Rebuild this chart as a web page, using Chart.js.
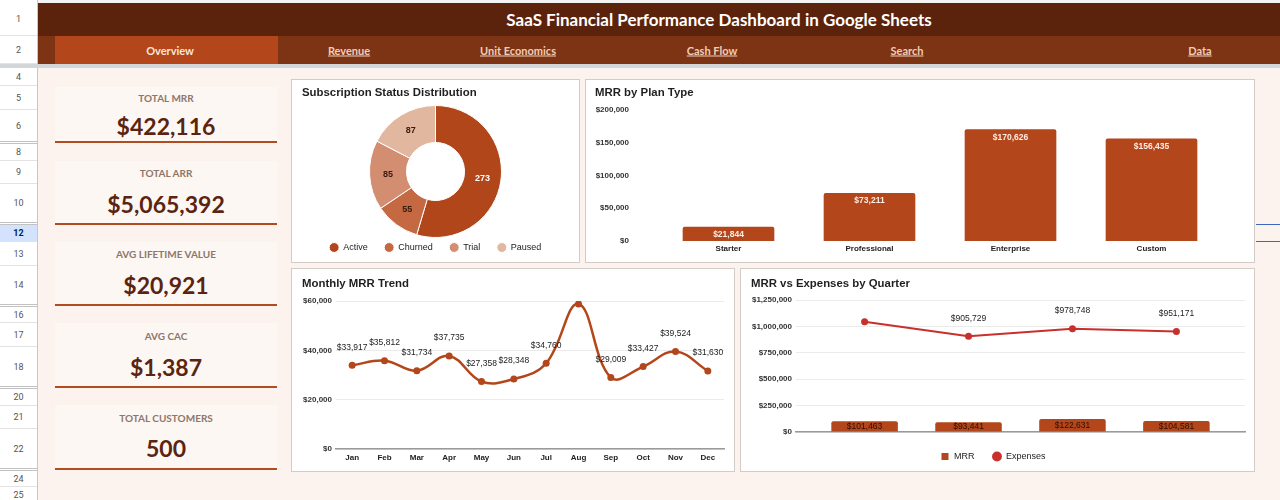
<!DOCTYPE html>
<html lang="en">
<head>
<meta charset="utf-8">
<title>SaaS Financial Performance Dashboard in Google Sheets</title>
<script src="https://cdn.jsdelivr.net/npm/chart.js@4.4.1/dist/chart.umd.min.js"></script>
<style>
  html, body { margin: 0; padding: 0; }
  body {
    position: relative; width: 1280px; height: 500px; overflow: hidden;
    background: #fcf3ee; font-family: Lato, "Liberation Sans", sans-serif;
  }
  #colHeader { position: absolute; left: 0; top: 0; width: 1280px; height: 3px; background: #f3f3f3; }
  #rowHeader { position: absolute; left: 0; top: 0; width: 37px; height: 500px; background: #fff; border-right: 1px solid #c7c7c7; }
  .row-num {
    position: absolute; left: 0; width: 37px; box-sizing: border-box; border-bottom: 1px solid #e3e3e3;
    font: 9px Roboto, sans-serif; color: #555; display: flex; align-items: center; justify-content: center;
  }
  .row-num.gap { border-bottom: 3px double #c2c2c2; }
  .row-num.selected { background: #d3e3fd; color: #041e49; font-weight: 700; }
  #titleBar { position: absolute; left: 38px; top: 3px; width: 1242px; height: 33px; background: #5b230b; }
  #title {
    position: absolute; left: 719px; top: 19px; transform: translate(-50%, -50%);
    color: #fff; font-size: 17px; font-weight: 700; white-space: nowrap;
  }
  #navBar { position: absolute; left: 38px; top: 36px; width: 1242px; height: 28px; background: #7c3415; }
  #navActive { position: absolute; left: 55px; top: 36px; width: 223px; height: 28px; background: #b4461b; }
  .nav-link {
    position: absolute; top: 50px; transform: translate(-50%, -50%); font-size: 11px; font-weight: 700;
    color: #f3cdb6; text-decoration: underline; white-space: nowrap;
  }
  .nav-link.active { color: #fbe6d9; text-decoration: none; }
  #frozen { position: absolute; left: 0; top: 64px; width: 1280px; height: 4px; background: #d3d6d9; }
  .kpi-card { position: absolute; left: 55px; width: 222px; background: #fdf7f3; border-bottom: 2px solid #b04c1f; box-sizing: border-box; }
  .kpi-label, .kpi-value { position: absolute; left: 166px; transform: translate(-50%, -50%); white-space: nowrap; }
  .kpi-label { font-size: 10px; font-weight: 700; color: #8e766a; }
  .kpi-value { font-size: 23px; font-weight: 700; color: #5b2410; }
  .chart-box { position: absolute; background: #fff; border: 1px solid #d2cbc6; box-sizing: border-box; }
  .chart-box canvas { position: absolute; left: 0; top: 0; }
  .chart-title {
    position: absolute; z-index: 2; font: bold 11.4px "Liberation Sans", Arial, sans-serif;
    color: #1f1f1f; white-space: nowrap;
  }
  .sel-line { position: absolute; left: 1256px; width: 24px; height: 1px; background: #3f67c0; }
</style>
</head>
<body>
<div id="colHeader"></div>
<div id="rowHeader"></div>
<div id="titleBar"></div>
<div id="navBar"></div>
<div id="navActive"></div>
<div id="title">SaaS Financial Performance Dashboard in Google Sheets</div>
<div id="frozen"></div>
<div class="sel-line" style="top:224px"></div>
<div class="sel-line" style="top:241px"></div>

<div class="chart-box" style="left:291px;top:79px;width:289px;height:184px">
  <div class="chart-title" style="left:10px;top:6px">Subscription Status Distribution</div>
  <canvas id="statusChart" width="287" height="182"></canvas>
</div>
<div class="chart-box" style="left:585px;top:79px;width:670px;height:184px">
  <div class="chart-title" style="left:9px;top:6px">MRR by Plan Type</div>
  <canvas id="planChart" width="668" height="182"></canvas>
</div>
<div class="chart-box" style="left:291px;top:268px;width:444px;height:204px">
  <div class="chart-title" style="left:10px;top:8px">Monthly MRR Trend</div>
  <canvas id="trendChart" width="442" height="202"></canvas>
</div>
<div class="chart-box" style="left:740px;top:268px;width:515px;height:204px">
  <div class="chart-title" style="left:10px;top:8px">MRR vs Expenses by Quarter</div>
  <canvas id="quarterChart" width="513" height="202"></canvas>
</div>

<script>
// Dashboard data
const navItems = ["Overview", "Revenue", "Unit Economics", "Cash Flow", "Search", "Data"]

const kpiLabels = ["TOTAL MRR", "TOTAL ARR", "AVG LIFETIME VALUE", "AVG CAC", "TOTAL CUSTOMERS"]
const kpiValues = [422116, 5065392, 20921, 1387, 500]
const kpiIsMoney = [true, true, true, true, false]

const statusLabels = ["Active", "Churned", "Trial", "Paused"]
const statusCounts = [273, 55, 85, 87]

const planTypes = ["Starter", "Professional", "Enterprise", "Custom"]
const planMrr = [21844, 73211, 170626, 156435]

const months = ["Jan", "Feb", "Mar", "Apr", "May", "Jun", "Jul", "Aug", "Sep", "Oct", "Nov", "Dec"]
const monthlyMrr = [33917, 35812, 31734, 37735, 27358, 28348, 34760, 58800, 29009, 33427, 39524, 31630]

const quarters = ["Q1", "Q2", "Q3", "Q4"]
const quarterMrr = [101463, 93441, 122631, 104581]
const quarterExpenses = [1044000, 905729, 978748, 951171]

// Sheet layout (rows, nav, cards)
const navCenters = [170, 349, 518, 712, 907, 1200]
const sheetRows = [
  ["1", 3, 36], ["2", 36, 64], ["4", 68, 86], ["5", 86, 110], ["6", 110, 144, "gap"],
  ["8", 144, 161], ["9", 161, 184], ["10", 184, 225, "gap"], ["12", 225, 242, "selected"],
  ["13", 242, 266], ["14", 266, 307, "gap"], ["16", 307, 323], ["17", 323, 347],
  ["18", 347, 389, "gap"], ["20", 389, 406], ["21", 406, 429], ["22", 429, 471, "gap"],
  ["24", 471, 487], ["25", 487, 503],
]
const cardTops = [87, 161, 242, 323, 405]
const cardBottoms = [143, 225, 306, 388, 470]
const cardLabelY = [98, 173, 254, 336, 418]
const cardValueY = [126, 204, 285, 367, 448]

const BRICK = "#b3461a"
const RED = "#c8302e"
const statusColors = ["#b1461b", "#c46942", "#d38e72", "#e2b7a0"]

const money = (v) => "$" + v.toLocaleString("en-US")

function buildSheet() {
  const rowHeader = document.getElementById("rowHeader")
  sheetRows.forEach(([label, top, bottom, kind]) => {
    const cell = document.createElement("div")
    cell.className = "row-num" + (kind ? " " + kind : "")
    cell.style.top = top + "px"
    cell.style.height = bottom - top + "px"
    cell.textContent = label
    rowHeader.appendChild(cell)
  })

  navItems.forEach((name, i) => {
    const link = document.createElement("div")
    link.className = "nav-link" + (i === 0 ? " active" : "")
    link.style.left = navCenters[i] + "px"
    link.textContent = name
    document.body.appendChild(link)
  })

  kpiLabels.forEach((label, i) => {
    const card = document.createElement("div")
    card.className = "kpi-card"
    card.style.top = cardTops[i] + "px"
    card.style.height = cardBottoms[i] - cardTops[i] + "px"
    document.body.appendChild(card)

    const lab = document.createElement("div")
    lab.className = "kpi-label"
    lab.style.top = cardLabelY[i] + "px"
    lab.textContent = label
    document.body.appendChild(lab)

    const val = document.createElement("div")
    val.className = "kpi-value"
    val.style.top = cardValueY[i] + "px"
    val.textContent = kpiIsMoney[i] ? money(kpiValues[i]) : kpiValues[i].toLocaleString("en-US")
    document.body.appendChild(val)
  })
}

// Small plugin that writes the value labels (no datalabels plugin available)
const valueLabels = {
  id: "valueLabels",
  afterDatasetsDraw(chart) {
    const ctx = chart.ctx
    const area = chart.chartArea
    chart.data.datasets.forEach((ds, di) => {
      const cfg = ds.valueLabel
      if (!cfg) return
      const meta = chart.getDatasetMeta(di)
      ctx.save()
      ctx.font = cfg.font
      ctx.textAlign = "center"
      ctx.textBaseline = "middle"
      meta.data.forEach((el, i) => {
        let x = el.x
        let y = el.y
        if (cfg.pos === "arc") {
          const p = el.tooltipPosition()
          x = p.x
          y = p.y
        } else if (cfg.pos === "above") {
          y = el.y - cfg.offset
          if (y - 6 < area.top) return
        } else if (cfg.pos === "top") {
          y = el.y + cfg.offset
        } else {
          y = (el.y + el.base) / 2
        }
        ctx.fillStyle = Array.isArray(cfg.color) ? cfg.color[i] : cfg.color
        ctx.fillText(cfg.format(ds.data[i]), x, y)
      })
      ctx.restore()
    })
  },
}

const tickFont = { size: 8, weight: "bold" }

function drawStatusChart() {
  new Chart(document.getElementById("statusChart"), {
    type: "doughnut",
    data: {
      labels: statusLabels,
      datasets: [
        {
          data: statusCounts,
          backgroundColor: statusColors,
          borderColor: "#ffffff",
          borderWidth: 1,
          clip: false,
          valueLabel: {
            pos: "arc",
            font: "bold 9px 'Liberation Sans'",
            color: ["#ffffff", "#3a1a0c", "#3a1a0c", "#3a1a0c"],
            format: (v) => String(v),
          },
        },
      ],
    },
    options: {
      responsive: false,
      animation: false,
      radius: 66,
      cutout: "44%",
      layout: { padding: { top: 37, bottom: 0, left: 0, right: 0 } },
      plugins: {
        tooltip: { enabled: false },
        legend: {
          position: "bottom",
          labels: { usePointStyle: true, boxHeight: 7, padding: 17, color: "#222", font: { size: 9 } },
        },
      },
    },
    plugins: [valueLabels],
  })
}

function drawPlanChart() {
  new Chart(document.getElementById("planChart"), {
    type: "bar",
    data: {
      labels: planTypes,
      datasets: [
        {
          data: planMrr,
          backgroundColor: BRICK,
          borderRadius: 2,
          borderSkipped: "bottom",
          barPercentage: 0.65,
          categoryPercentage: 1,
          valueLabel: { pos: "top", offset: 8, font: "bold 8.5px 'Liberation Sans'", color: "#fdeee6", format: money },
        },
      ],
    },
    options: {
      responsive: false,
      animation: false,
      layout: { padding: { top: 30, right: 32, bottom: 7, left: 0 } },
      plugins: { legend: { display: false }, tooltip: { enabled: false } },
      scales: {
        x: {
          grid: { display: false, drawTicks: false },
          border: { display: false },
          ticks: { padding: 3, color: "#222", font: tickFont },
          afterFit: (s) => { s.height = 14 },
        },
        y: {
          min: 0,
          max: 200000,
          grid: { display: false, drawTicks: false },
          border: { display: false },
          ticks: { stepSize: 50000, padding: 29, color: "#333", font: tickFont, callback: money },
          // the wide label gap must not push the plot down
          afterFit: (s) => {
            s.width = 72
            s.paddingTop = 5
            s.paddingBottom = 5
          },
        },
      },
    },
    plugins: [valueLabels],
  })
}

function drawTrendChart() {
  new Chart(document.getElementById("trendChart"), {
    type: "line",
    data: {
      labels: months,
      datasets: [
        {
          data: monthlyMrr,
          borderColor: BRICK,
          backgroundColor: BRICK,
          borderWidth: 2.5,
          pointRadius: 3.5,
          pointBorderWidth: 0,
          tension: 0.4,
          valueLabel: { pos: "above", offset: 18, font: "8.5px 'Liberation Sans'", color: "#222", format: money },
        },
      ],
    },
    options: {
      responsive: false,
      animation: false,
      layout: { padding: { top: 32, right: 10, bottom: 6, left: 0 } },
      plugins: { legend: { display: false }, tooltip: { enabled: false } },
      scales: {
        x: {
          offset: true,
          grid: { display: false, drawTicks: false },
          border: { display: true, color: "#9a9a9a", width: 1.5 },
          ticks: { padding: 4, color: "#222", font: tickFont },
          afterFit: (s) => { s.height = 16 },
        },
        y: {
          min: 0,
          max: 60000,
          grid: { color: "#ebebeb", drawTicks: false },
          border: { display: false },
          ticks: { stepSize: 20000, padding: 4, color: "#333", font: tickFont, callback: money },
          afterFit: (s) => { s.width = 44 },
        },
      },
    },
    plugins: [valueLabels],
  })
}

function drawQuarterChart() {
  new Chart(document.getElementById("quarterChart"), {
    type: "bar",
    data: {
      labels: quarters,
      datasets: [
        {
          type: "bar",
          label: "MRR",
          data: quarterMrr,
          backgroundColor: BRICK,
          borderRadius: 2,
          borderSkipped: "bottom",
          barPercentage: 0.64,
          categoryPercentage: 1,
          valueLabel: { pos: "middle", font: "8.5px 'Liberation Sans'", color: "#2a0f05", format: money },
        },
        {
          type: "line",
          label: "Expenses",
          data: quarterExpenses,
          borderColor: RED,
          backgroundColor: RED,
          borderWidth: 2,
          pointRadius: 3.5,
          pointBorderWidth: 0,
          tension: 0,
          valueLabel: { pos: "above", offset: 18, font: "8.5px 'Liberation Sans'", color: "#222", format: money },
        },
      ],
    },
    options: {
      responsive: false,
      animation: false,
      layout: { padding: { top: 31, right: 9, bottom: 0, left: 0 } },
      plugins: {
        tooltip: { enabled: false },
        legend: {
          position: "bottom",
          labels: {
            usePointStyle: true,
            boxHeight: 7,
            padding: 18,
            color: "#222",
            font: { size: 9 },
            generateLabels: (chart) =>
              Chart.defaults.plugins.legend.labels.generateLabels(chart).map((item, i) => ({
                ...item,
                pointStyle: i === 0 ? "rect" : "circle",
                lineWidth: 0,
              })),
          },
        },
      },
      scales: {
        x: {
          grid: { display: false, drawTicks: false },
          border: { display: true, color: "#9a9a9a", width: 1.5 },
          ticks: { padding: 4, color: "#222", font: tickFont },
          // Sheets leaves extra room on both sides of the category band
          afterBuildTicks: (s) => {
            s._startValue = -0.66
            s._valueRange = 4.32
          },
          afterFit: (s) => { s.height = 2 },
        },
        y: {
          min: 0,
          max: 1250000,
          grid: { color: "#ebebeb", drawTicks: false },
          border: { display: false },
          ticks: { stepSize: 250000, padding: 4, color: "#333", font: tickFont, callback: money },
          afterFit: (s) => { s.width = 55 },
        },
      },
    },
    plugins: [valueLabels],
  })
}

document.addEventListener("DOMContentLoaded", () => {
  Chart.defaults.font.family = "'Liberation Sans', Arial, sans-serif"
  buildSheet()
  drawStatusChart()
  drawPlanChart()
  drawTrendChart()
  drawQuarterChart()
})
</script>
</body>
</html>
